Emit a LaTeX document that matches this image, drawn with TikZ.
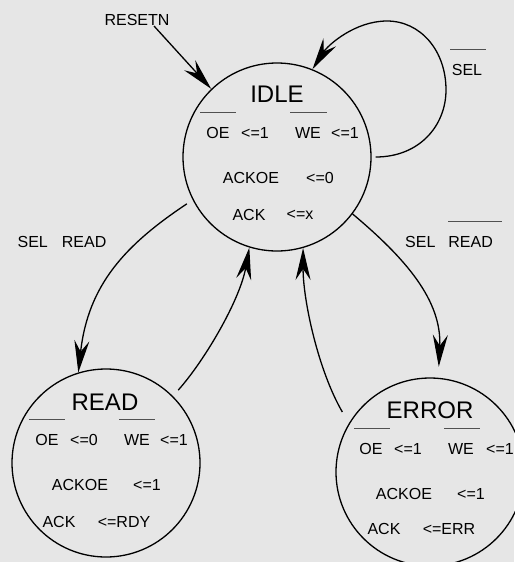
\documentclass[tikz,border=0pt]{standalone}
\usepackage{fontspec}
\setmainfont{Liberation Sans}
\usetikzlibrary{arrows.meta}
\definecolor{bgcol}{RGB}{230,230,230}
\definecolor{barcol}{RGB}{80,80,80}
\begin{document}
\begin{tikzpicture}[x=1pt,y=-1pt,
  state/.style={circle,draw,line width=1.3pt,minimum size=188pt,inner sep=0pt},
  title/.style={inner sep=0pt,font=\fontsize{24}{28}\selectfont},
  txt/.style={inner sep=0pt,font=\fontsize{16}{19}\selectfont},
  bar/.style={draw=barcol,line width=1pt},
  trans/.style={line width=1.3pt,-{Stealth[length=32pt,width=15pt,inset=11pt]}}]
% canvas
\fill[bgcol] (0,0) rectangle (514,562);
\useasboundingbox (0,0) rectangle (514,562);

% states
\node[state] (idle)  at (277,157) {};
\node[state] (read)  at (106,463) {};
\node[state] (error) at (430,472) {};

% IDLE contents
\node[title] (idleT) at (277,94) {IDLE};
\draw[bar] (200,112) -- (236,112);
\draw[bar] (290,112) -- (327,112);
\node[txt] at (218,133) {OE};
\node[txt] at (255,133) {<=1};
\node[txt] at (308,133) {WE};
\node[txt] at (345,133) {<=1};
\node[txt] at (251,178) {ACKOE};
\node[txt] at (320,178) {<=0};
\node[txt] at (249,215) {ACK};
\node[txt] at (300,215) {<=x};

% READ contents
\node[title] (readT) at (105,402) {READ};
\draw[bar] (29,419) -- (65,419);
\draw[bar] (119,419) -- (155,419);
\node[txt] at (47,440) {OE};
\node[txt] at (84,440) {<=0};
\node[txt] at (137,440) {WE};
\node[txt] at (174,440) {<=1};
\node[txt] at (80,485) {ACKOE};
\node[txt] at (147,485) {<=1};
\node[txt] at (59,522) {ACK};
\node[txt] at (124,522) {<=RDY};

% ERROR contents
\node[title] (errorT) at (430,410) {ERROR};
\draw[bar] (354,428) -- (390,428);
\draw[bar] (444,428) -- (480,428);
\node[txt] at (371,449) {OE};
\node[txt] at (408,449) {<=1};
\node[txt] at (461,449) {WE};
\node[txt] at (500,449) {<=1};
\node[txt] at (404,494) {ACKOE};
\node[txt] at (471,494) {<=1};
\node[txt] at (384,529) {ACK};
\node[txt] at (449,529) {<=ERR};

% reset entry
\node[txt] (rst) at (137,20) {RESETN};
\coordinate (rstfoot) at (154,26);
\draw[trans] (rstfoot) -- (idle.134);

% self loop on IDLE
\node[txt] (sel) at (467,70) {SEL};
\draw[bar] (450,49) -- (486,49);
\draw[trans,shorten <=4pt] (idle.0)
  .. controls (420,157) and (446,125) .. (446,90)
  .. controls (446,50) and (420,21) .. (387,21)
  .. controls (355,21) and (328,45) .. (idle.68);

% transition labels
\node[txt] (lblR) at (62,242) {SEL\hspace{14pt}READ};
\node[txt] (lblE) at (449,242) {SEL\hspace{13pt}READ};
\draw[bar] (448,221) -- (502,221);

% transitions
\draw[trans,shorten <=7pt] (idle.207)
  .. controls (125,245) and (88,285) .. (read.107);
\draw[trans,shorten <=8pt] (read.45)
  .. controls (205,360) and (240,300) .. (idle.253.5);
\draw[trans,shorten <=13pt] (error.149)
  .. controls (318,370) and (303,300) .. (idle.286.5);
\draw[trans,shorten >=11pt] (idle.323.3)
  .. controls (405,258) and (442,300) .. (error.85);
\end{tikzpicture}
\end{document}
